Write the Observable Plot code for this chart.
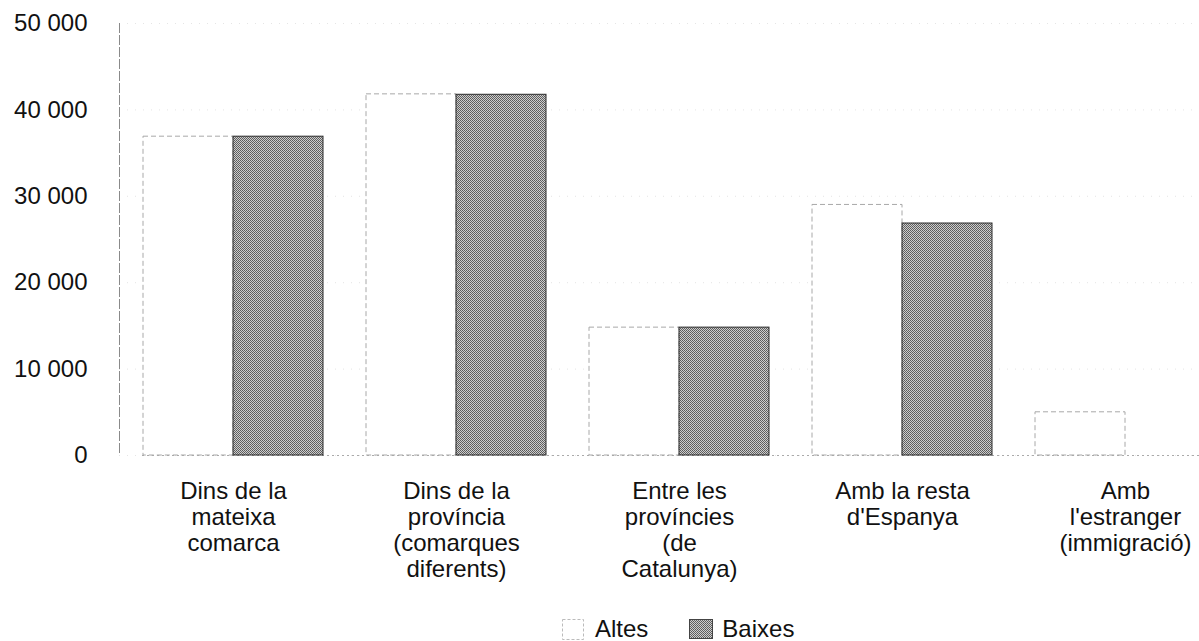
<!DOCTYPE html>
<html>
<head>
<meta charset="utf-8">
<script src="https://cdn.jsdelivr.net/npm/d3@7"></script>
<script src="https://cdn.jsdelivr.net/npm/@observablehq/plot@0.6"></script>
<style>
  html, body { margin: 0; padding: 0; background: #fff; }
  body { width: 1199px; height: 641px; position: relative; overflow: hidden; font-family: "Liberation Sans", Arial, sans-serif; }
  #legend { position: absolute; left: 562px; top: 618px; height: 22px; display: flex; align-items: center; font-size: 24px; line-height: 22px; color: #111; }
  #legend .item { display: flex; align-items: center; }
  #legend svg { display: block; }
</style>
</head>
<body>
<div id="chart"></div>
<div id="legend"></div>
<script>
// ---- data ----
const categories = [
  "Dins de la\nmateixa\ncomarca",
  "Dins de la\nprovíncia\n(comarques\ndiferents)",
  "Entre les\nprovíncies\n(de\nCatalunya)",
  "Amb la resta\nd'Espanya",
  "Amb\nl'estranger\n(immigració)"
];
const altes  = [36900, 41800, 14800, 29000, 5000];
const baixes = [36900, 41750, 14800, 26850, 0];
const seriesNames = ["Altes", "Baixes"];
const yTicks = [0, 10000, 20000, 30000, 40000, 50000];

const table = categories.map((c, i) => ({cat: c, altes: altes[i], baixes: baixes[i]}));
const fmt = d => d3.format(",")(d).replace(/,/g, " ");

const chart = Plot.plot({
  width: 1199,
  height: 612,
  marginTop: 23,
  marginBottom: 157,
  marginLeft: 119,
  marginRight: 0,
  style: {fontFamily: "'Liberation Sans', Arial, sans-serif", fontSize: "24px", color: "#111", background: "#fff", overflow: "hidden"},
  x: {type: "band", domain: categories, range: [142, 1215], paddingInner: 0.194, paddingOuter: 0, label: null},
  y: {domain: [0, 50000], label: null},
  marks: [
    Plot.gridY(yTicks, {stroke: "#999", strokeOpacity: 0.25, strokeDasharray: "1 7"}),
    Plot.frame({anchor: "left", stroke: "#8a8a8a", strokeDasharray: "9 3"}),
    Plot.ruleY([0], {stroke: "#aaa", strokeDasharray: "2 3", insetLeft: 23}),
    Plot.barY(table, {x: "cat", y: "altes", fill: "#fff", stroke: "#a8a8a8", strokeDasharray: "5 3", insetRight: 90}),
    Plot.barY(table.filter(d => d.baixes > 0), {x: "cat", y: "baixes", fill: "url(#dither)", stroke: "#2a2a2a", strokeWidth: 1, insetLeft: 90}),
    Plot.axisY(yTicks, {tickSize: 0, tickPadding: 32, tickFormat: fmt, fontSize: 24, label: null}),
    Plot.axisX({tickSize: 0, tickPadding: 25, lineHeight: 1.08, fontSize: 24, label: null})
  ]
});

const defs = d3.select(chart).insert("defs", ":first-child");
const pat = defs.append("pattern").attr("id", "dither").attr("patternUnits", "userSpaceOnUse").attr("width", 2).attr("height", 2);
pat.append("rect").attr("width", 2).attr("height", 2).attr("fill", "#cdcdcd");
pat.append("rect").attr("x", 0).attr("y", 0).attr("width", 1).attr("height", 1).attr("fill", "#5a5a5a");
pat.append("rect").attr("x", 1).attr("y", 1).attr("width", 1).attr("height", 1).attr("fill", "#646464");

document.getElementById("chart").appendChild(chart);

// ---- legend ----
const legend = d3.select("#legend");
const a = legend.append("div").attr("class", "item");
const sa = a.append("svg").attr("width", 22).attr("height", 21);
sa.append("rect").attr("x", 0.5).attr("y", 0.5).attr("width", 21).attr("height", 20)
  .attr("fill", "#fff").attr("stroke", "#bbb").attr("stroke-dasharray", "3 2");
a.append("span").style("margin-left", "11px").text(seriesNames[0]);

const b = legend.append("div").attr("class", "item").style("margin-left", "41px");
const sb = b.append("svg").attr("width", 24).attr("height", 20);
const d2 = sb.append("defs").append("pattern").attr("id", "dither2").attr("patternUnits", "userSpaceOnUse").attr("width", 2).attr("height", 2);
d2.append("rect").attr("width", 2).attr("height", 2).attr("fill", "#cdcdcd");
d2.append("rect").attr("width", 1).attr("height", 1).attr("fill", "#5a5a5a");
d2.append("rect").attr("x", 1).attr("y", 1).attr("width", 1).attr("height", 1).attr("fill", "#646464");
sb.append("rect").attr("x", 0.5).attr("y", 0.5).attr("width", 23).attr("height", 19)
  .attr("fill", "url(#dither2)").attr("stroke", "#444");
b.append("span").style("margin-left", "9px").text(seriesNames[1]);
</script>
</body>
</html>
